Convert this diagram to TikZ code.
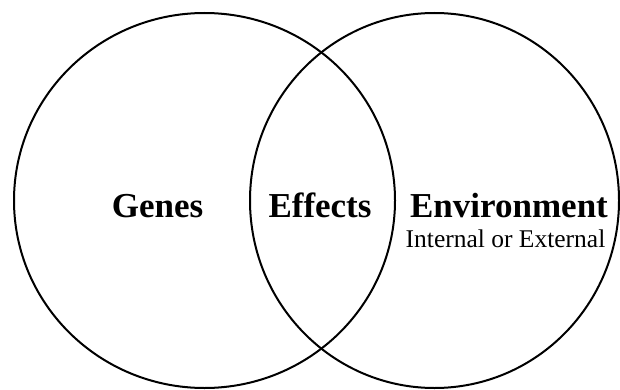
\documentclass[tikz,border=0pt]{standalone}
\usepackage{fontspec}
\setmainfont{Liberation Serif}
\usepackage{tikz}
\usetikzlibrary{shapes.geometric, positioning}

\begin{document}
\begin{tikzpicture}[x=1pt, y=-1pt]
    \tikzstyle{ring} = [ellipse, draw=black, line width=2pt, inner sep=0pt]
    \tikzstyle{title} = [anchor=base, inner sep=0pt, font=\fontsize{35}{40}\selectfont\bfseries]
    \tikzstyle{sub} = [anchor=base, inner sep=0pt, font=\fontsize{25.5}{30}\selectfont]

    \useasboundingbox (0,0) rectangle (620,390);

    \node (genesring) [ring, minimum width=381pt, minimum height=375pt] at (204.5,200.5) {};
    \node (envring) [ring, minimum width=369pt, minimum height=375pt] at (434.5,200.5) {};

    \node (genes) [title] at (157.5,217) {Genes};
    \node (effects) [title] at (320,217) {Effects};
    \node (environment) [title] at (509,217) {Environment};
    \node (kind) [sub] at (505.5,247) {Internal or External};
\end{tikzpicture}
\end{document}
